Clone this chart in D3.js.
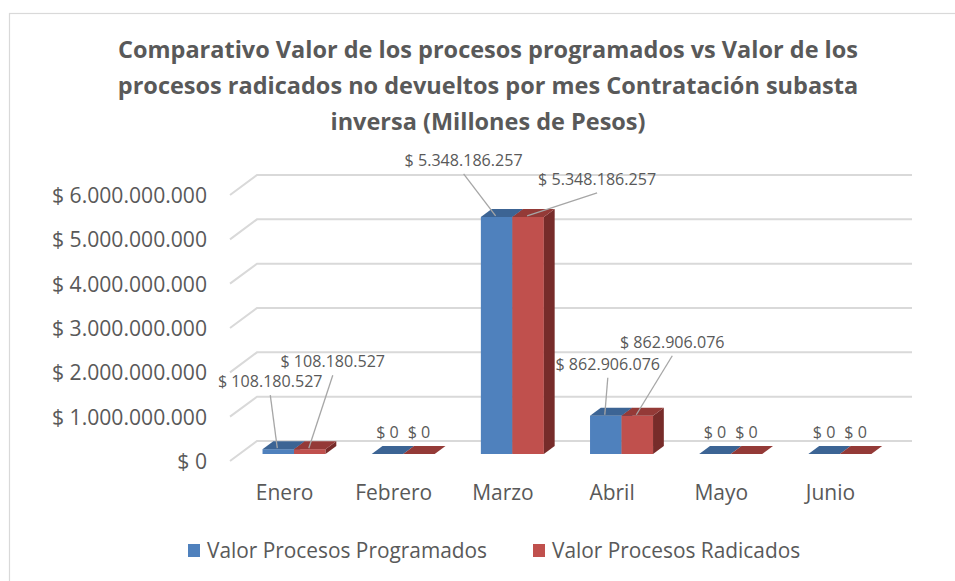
<!DOCTYPE html>
<html><head><meta charset="utf-8">
<script src="https://cdn.jsdelivr.net/npm/d3@7"></script>
<style>body{margin:0;background:#fff}svg{display:block}text{font-family:"Open Sans",sans-serif;fill:#595959}</style>
</head><body>
<svg id="c" width="955" height="581"></svg>
<script>
// ---- data ----
const categories = ["Enero","Febrero","Marzo","Abril","Mayo","Junio"];
const seriesNames = ["Valor Procesos Programados","Valor Procesos Radicados"];
const programados = [108180527, 0, 5348186257, 862906076, 0, 0];
const radicados   = [108180527, 0, 5348186257, 862906076, 0, 0];
const yTicks = [0,1e9,2e9,3e9,4e9,5e9,6e9];
const titleLines = ["Comparativo Valor de los procesos programados vs Valor de los",
                    "procesos radicados no devueltos por mes Contratación subasta",
                    "inversa (Millones de Pesos)"];

// ---- layout ----
const svg = d3.select("#c");
const colors = {front:["#4F81BD","#C0504D"], top:["#3C6494","#943A37"], side:["#3A5F8C","#772C2A"]};
const bx0 = 257, bx1 = 912, depthDx = -27, depthDy = 20;
const fBack = 0.25, fFront = 0.65;
// label placement relative to bar front-top centre [series][category] -> [dx, dy]
const labelOffsets = [
  [[-8,-62],[0,-16],[-33,-51],[2,-46],[0,-16],[0,-16]],
  [[23,-82],[0,-16],[69,-32],[35,-68],[0,-16],[0,-16]]
];

const loc = d3.formatLocale({decimal:",", thousands:".", grouping:[3], currency:["$ ",""]});
const fmt = loc.format("$,.0f");

// set a group of texts to font size fs and squeeze horizontally so that the reference text has width target
function squeeze(group, refNode, fs, target) {
  group.attr("font-size", fs);
  const ratio = Math.min(1.05, target / refNode.getComputedTextLength());
  group.each(function(){
    const w = this.getComputedTextLength();
    d3.select(this).attr("textLength", (w*ratio).toFixed(2)).attr("lengthAdjust","spacingAndGlyphs");
  });
}

svg.append("rect").attr("x",9.5).attr("y",13.5).attr("width",960).attr("height",600)
  .attr("fill","#fff").attr("stroke","#d9d9d9").attr("stroke-width",1.2);

const yBack = d3.scaleLinear().domain([0,6e9]).range([441,175]);
const yFront = v => yBack(v) + depthDy;
const xCat = d3.scaleBand().domain(categories).range([0, bx1-bx0]).padding(0);
const barW = 31.5;
const xSer = d3.scaleBand().domain([0,1])
  .range([(xCat.bandwidth()-2*barW)/2, (xCat.bandwidth()+2*barW)/2]).padding(0);

// title
const tg = svg.append("g");
titleLines.forEach((t,i)=>{
  tg.append("text").attr("x",488).attr("y",58+i*36).attr("text-anchor","middle")
    .attr("font-weight","bold").text(t);
});
squeeze(tg.selectAll("text"), tg.select("text").node(), 22.5, 740);

// gridlines (side wall + back wall)
const grid = svg.append("g");
yTicks.forEach(v=>{
  const yb = yBack(v);
  grid.append("polyline")
    .attr("points", `${bx0+depthDx},${yb+depthDy} ${bx0},${yb} ${bx1},${yb}`)
    .attr("fill","none").attr("stroke","#d9d9d9").attr("stroke-width",2);
});

// y axis
const yAxisScale = d3.scaleLinear().domain([0,6e9]).range([yFront(0), yFront(6e9)]);
const ax = svg.append("g").attr("transform",`translate(${bx0+depthDx},0)`)
  .call(d3.axisLeft(yAxisScale).tickValues(yTicks).tickFormat(fmt).tickSize(0).tickPadding(23));
ax.select(".domain").remove();
ax.selectAll("text").attr("font-family",null).attr("fill","#595959").attr("dy","0.36em");
squeeze(ax.selectAll("text"), ax.selectAll("text").filter(d=>d===6e9).node(), 21, 155);

// bars
const bars = svg.append("g");
const series = [programados, radicados];
const sdx = depthDx*(fBack-fFront), sdy = depthDy*(fBack-fFront); // front -> back offset
const anchors = [[],[]];
categories.forEach((c,ci)=>{
  [0,1].forEach(si=>{
    const v = series[si][ci];
    const x0 = bx0 + depthDx*fFront + xCat(c) + xSer(si);
    const yt = yBack(v) + depthDy*fFront;
    const yb = yBack(0) + depthDy*fFront;
    const w = xSer.bandwidth();
    anchors[si][ci] = [x0+w/2, yt];
    if (yb - yt > 0.5) {
      bars.append("rect").attr("x",x0).attr("y",yt).attr("width",w).attr("height",yb-yt)
        .attr("fill",colors.front[si]);
      bars.append("polygon")
        .attr("points",`${x0+w},${yt} ${x0+w+sdx},${yt+sdy} ${x0+w+sdx},${yb+sdy} ${x0+w},${yb}`)
        .attr("fill",colors.side[si]);
    }
    bars.append("polygon")
      .attr("points",`${x0},${yt} ${x0+w},${yt} ${x0+w+sdx},${yt+sdy} ${x0+sdx},${yt+sdy}`)
      .attr("fill",colors.top[si]);
  });
});

// data labels
const lab = svg.append("g");
let refLabel = null;
[0,1].forEach(si=>{
  categories.forEach((c,ci)=>{
    const v = series[si][ci];
    const [ax0, ay0] = anchors[si][ci];
    const [dx, dy] = labelOffsets[si][ci];
    const lx = ax0+dx, ly = ay0+dy;
    if (v > 0) {
      lab.append("line").attr("x1",lx).attr("y1",ly+8).attr("x2",ax0-1).attr("y2",ay0-1)
        .attr("stroke","#a6a6a6").attr("stroke-width",1.3);
    }
    const t = lab.append("text").attr("x",lx).attr("y",ly).attr("text-anchor","middle")
      .attr("class","dl").text(fmt(v));
    if (v === 5348186257 && !refLabel) refLabel = t;
  });
});
squeeze(lab.selectAll("text.dl"), refLabel.node(), 16.5, 118);

// category labels
const cg = svg.append("g");
categories.forEach(c=>{
  cg.append("text").attr("x", bx0+depthDx + xCat(c) + xCat.bandwidth()/2).attr("y", 500)
    .attr("text-anchor","middle").text(c);
});
squeeze(cg.selectAll("text"), cg.selectAll("text").filter(function(){return this.textContent==="Febrero";}).node(), 21, 77);

// legend
const lg = svg.append("g");
const legX = [188, 533];
seriesNames.forEach((n,i)=>{
  lg.append("rect").attr("x",legX[i]).attr("y",544).attr("width",12).attr("height",13).attr("fill",colors.front[i]);
  lg.append("text").attr("x",legX[i]+19).attr("y",558).text(n);
});
squeeze(lg.selectAll("text"), lg.select("text").node(), 21.5, 280);
</script>
</body></html>
